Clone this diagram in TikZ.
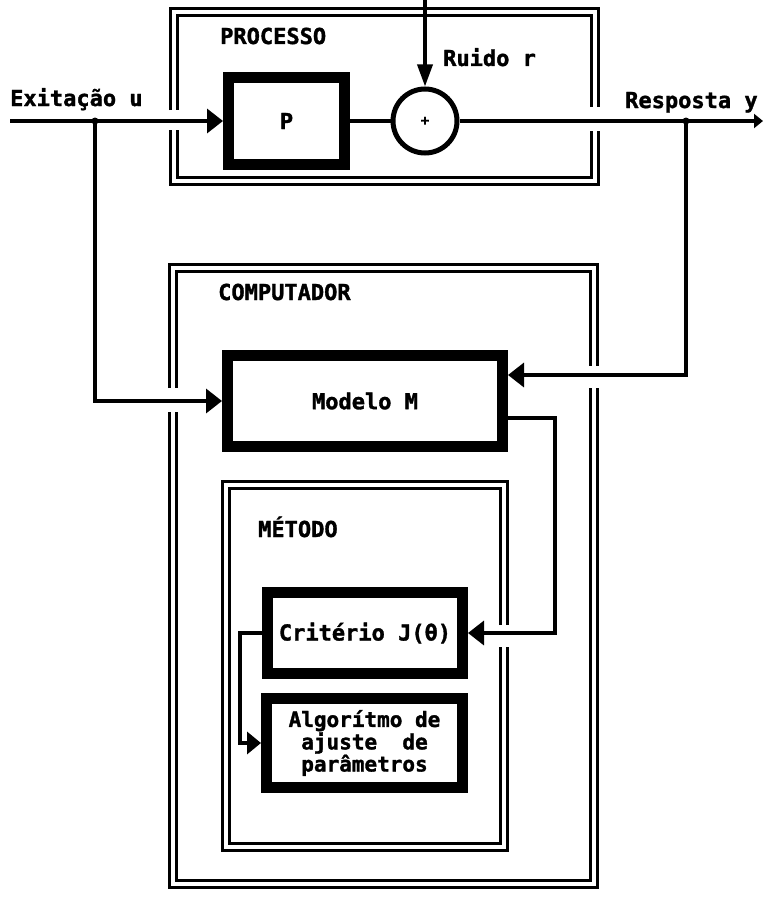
\documentclass[tikz,border=0pt]{standalone}
\usepackage{fontspec}
\newfontfamily\dmfont{DejaVu Sans Mono}[BoldFeatures={FakeBold=1.5}]
\usetikzlibrary{arrows.meta}
\begin{document}
\begin{tikzpicture}[x=1pt,y=-1pt,
  frame/.style={draw, line width=2.6pt, double=white, double distance=4.5pt},
  blk/.style={draw, line width=11pt, rectangle, inner sep=0pt,
    font=\dmfont\bfseries\fontsize{22}{20}\selectfont},
  wire/.style={line width=3.5pt},
  arr/.style={wire, -{Triangle[length=16pt,width=24pt]}},
  lbl/.style={font=\dmfont\bfseries\fontsize{22}{21}\selectfont, inner sep=0pt}]
\useasboundingbox (0,0) rectangle (764,899);
% containers
\draw[frame] (174,110) -- (174,12) -- (595,12) -- (595,107);
\draw[frame] (595,131) -- (595,181) -- (174,181) -- (174,130);
\draw[frame] (173,388) -- (173,268) -- (594,268) -- (594,366);
\draw[frame] (594,388) -- (594,884) -- (173,884) -- (173,412);
\draw[frame] (504,625) -- (504,485) -- (226,485) -- (226,847) -- (504,847) -- (504,647);
% blocks
\node[blk, minimum width=116pt, minimum height=87pt] (P) at (286.5,121) {P};
\node[circle, draw, line width=5pt, minimum size=64pt, inner sep=0pt,
  font=\dmfont\bfseries\fontsize{14}{14}\selectfont] (S) at (425,121) {+};
\node[blk, minimum width=275pt, minimum height=91pt] (M) at (365,401) {Modelo M};
\node[blk, minimum width=195pt, minimum height=81pt] (C) at (365,633) {Critério J(θ)};
\node[blk, minimum width=196pt, minimum height=89pt, align=center,
  font=\dmfont\bfseries\fontsize{21}{20}\selectfont] (A) at (364.5,743)
  {Algorítmo de\\ajuste\ \ de\\parâmetros};
% labels
\node[lbl, anchor=base west] (tproc) at (220,44) {PROCESSO};
\node[lbl, anchor=base west] (tu) at (10,106) {Exitação u};
\node[lbl, anchor=base west] (tr) at (443,66) {Ruido r};
\node[lbl, anchor=base west] (ty) at (625,108) {Resposta y};
\node[lbl, anchor=base west] (tcomp) at (218,300) {COMPUTADOR};
\node[lbl, anchor=base west] (tmet) at (258,537) {MÉTODO};
% connectors
\coordinate (uin) at (10,121);
\coordinate (ju) at (95,121);
\coordinate (jy) at (686,121);
\coordinate (yout) at (763,121);
\coordinate (rtop) at (425,0);
\coordinate (cr) at (555,633);
\coordinate (ca) at (240,633);
\draw[arr] (uin) -- (P.west);
\draw[wire] (P.east) -- (S.west);
\draw[wire, -{Triangle[length=9pt,width=14pt]}] (S.east) -- (yout);
\draw[wire, -{Triangle[length=22pt,width=15pt]}] (rtop) -- (S.north);
\draw[arr] (ju) |- (M.west);
\draw[arr] (jy) |- (M.east |- 0,375);
\draw[arr] (M.east |- 0,418) -| (cr) -- (C.east);
\draw[wire, -{Triangle[length=14pt,width=22pt]}] (C.west) -- (ca) |- (A.west);
\fill (ju) circle (3.5pt);
\fill (jy) circle (3.5pt);
\end{tikzpicture}
\end{document}
